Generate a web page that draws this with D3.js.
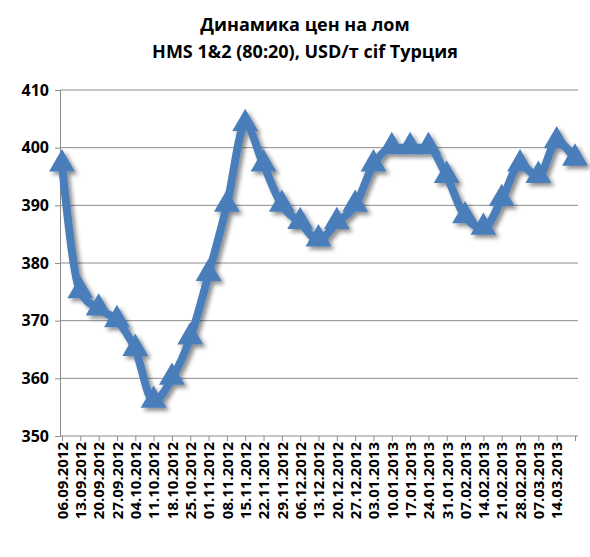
<!DOCTYPE html>
<html>
<head>
<meta charset="utf-8">
<script src="https://cdn.jsdelivr.net/npm/d3@7.9.0/dist/d3.min.js"></script>
<style>
  body { margin: 0; background: #fff; }
  text { font-family: "Open Sans", "DejaVu Sans", sans-serif; }
</style>
</head>
<body>
<div id="vis"></div>
<script>
const dates = ["06.09.2012","13.09.2012","20.09.2012","27.09.2012","04.10.2012","11.10.2012",
  "18.10.2012","25.10.2012","01.11.2012","08.11.2012","15.11.2012","22.11.2012","29.11.2012",
  "06.12.2012","13.12.2012","20.12.2012","27.12.2012","03.01.2013","10.01.2013","17.01.2013",
  "24.01.2013","31.01.2013","07.02.2013","14.02.2013","21.02.2013","28.02.2013","07.03.2013",
  "14.03.2013","21.03.2013"];
const prices = [397, 375, 372, 370, 365, 356, 360, 367, 378, 390, 404, 397, 390, 387, 384, 387,
  390, 397, 400, 400, 400, 395, 388, 386, 391, 397, 395, 401, 398];
const yTicks = [350, 360, 370, 380, 390, 400, 410];
const shownLabels = dates.slice(0, 28);

const width = 590, height = 557;
const svg = d3.select("#vis").append("svg").attr("width", width).attr("height", height);

const x = d3.scalePoint().domain(dates).range([62, 575]);
const y = d3.scaleLinear().domain([350, 410]).range([436, 90]);

// title
svg.append("text").attr("x", 305).attr("y", 31).attr("text-anchor", "middle")
  .attr("font-size", 18).attr("font-weight", "bold").text("Динамика цен на лом");
svg.append("text").attr("x", 305).attr("y", 58).attr("text-anchor", "middle")
  .attr("font-size", 18).attr("font-weight", "bold").text("HMS 1&2 (80:20), USD/т cif  Турция");

// gridlines
svg.append("g").selectAll("line").data(yTicks.slice(1)).enter().append("line")
  .attr("x1", 60).attr("x2", 578)
  .attr("y1", d => y(d)).attr("y2", d => y(d))
  .attr("stroke", "#8c8c8c").attr("stroke-width", 1);

// y axis
const ya = svg.append("g").attr("transform", "translate(60,0)")
  .call(d3.axisLeft(y).tickValues(yTicks).tickSize(5).tickPadding(6));
ya.selectAll("text").attr("font-size", 16).attr("font-weight", "bold").attr("fill", "#000");
ya.selectAll("path, line").attr("stroke", "#8c8c8c");

// x axis
const xa = svg.append("g").attr("transform", "translate(0,436)")
  .call(d3.axisBottom(x).tickFormat(d => shownLabels.includes(d) ? d : "").tickSize(5).tickSizeOuter(0));
xa.select("path").attr("d", "M60,0H578");
xa.selectAll("path, line").attr("stroke", "#8c8c8c");
xa.selectAll("text").attr("font-size", 15).attr("font-weight", "bold").attr("fill", "#000")
  .attr("transform", "rotate(-90)").attr("text-anchor", "end")
  .attr("dx", "-6").attr("dy", "0.35em").attr("x", 0).attr("y", 0);

// shadow
const defs = svg.append("defs");
const f = defs.append("filter").attr("id", "sh").attr("x", "-20%").attr("y", "-20%")
  .attr("width", "140%").attr("height", "140%");
f.append("feDropShadow").attr("dx", 3).attr("dy", 3).attr("stdDeviation", 2)
  .attr("flood-color", "#000").attr("flood-opacity", 0.45);

const g = svg.append("g").attr("filter", "url(#sh)");
const line = d3.line().x((d, i) => x(dates[i])).y(d => y(d)).curve(d3.curveMonotoneX);
g.append("path").datum(prices).attr("d", line)
  .attr("fill", "none").attr("stroke", "#4a7ebb").attr("stroke-width", 8)
  .attr("stroke-linejoin", "round");
g.selectAll("path.m").data(prices).enter().append("path").attr("class", "m")
  .attr("d", d3.symbol().type(d3.symbolTriangle).size(290))
  .attr("transform", (d, i) => `translate(${x(dates[i])},${y(d) - 1})`)
  .attr("fill", "#4a7ebb");
</script>
</body>
</html>
